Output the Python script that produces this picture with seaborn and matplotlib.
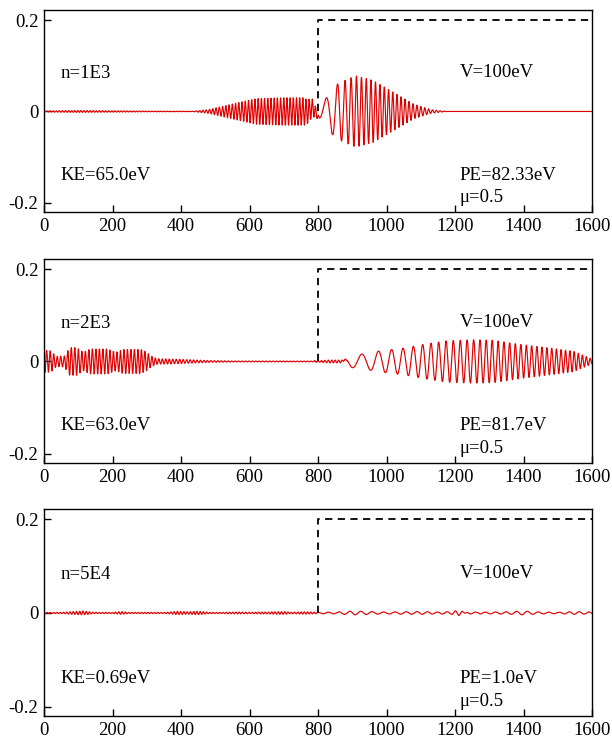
import numpy as np
import matplotlib
matplotlib.use("Agg")
import matplotlib.pyplot as plt
import seaborn as sns

# ---------------- data ----------------
x_ticks = [0, 200, 400, 600, 800, 1000, 1200, 1400, 1600]
y_ticks = [-0.2, 0, 0.2]
y_tick_labels = ["-0.2", "0", "0.2"]

# potential step (dashed)
pot_x = [800, 800, 1600]
pot_y = [0.0, 0.2, 0.2]

labels_n = ["n=1E3", "n=2E3", "n=5E4"]
labels_ke = ["KE=65.0eV", "KE=63.0eV", "KE=0.69eV"]
labels_pe = ["PE=82.33eV", "PE=81.7eV", "PE=1.0eV"]
label_v = "V=100eV"
label_mu = "\u03bc=0.5"

# Wave packets: envelope knots (x, amplitude), local wavelength knots (x, wavelength),
# reference x where carrier has a crest (phase 0) and extra phase.
# ---- panel 1 (n=1E3)
p1_tail_env_x = [0, 20, 100, 200, 300, 440]
p1_tail_env_a = [0.0, 0.0015, 0.002, 0.0015, 0.0008, 0.0004]
p1_tail_wl_x = [0, 440]
p1_tail_wl = [9.0, 9.0]

p1_a_env_x = [430, 480, 520, 560, 620, 700, 760, 785, 805]
p1_a_env_a = [0.0, 0.004, 0.011, 0.018, 0.028, 0.030, 0.030, 0.02, 0.0]
p1_a_wl_x = [430, 800]
p1_a_wl = [9.6, 9.2]

p1_b_env_x = [760, 800, 820, 841, 860, 910, 960, 1020, 1080, 1130, 1175]
p1_b_env_a = [0.0, 0.012, 0.025, 0.05, 0.062, 0.078, 0.068, 0.042, 0.016, 0.004, 0.0]
p1_b_wl_x = [780, 830, 860, 880, 900, 920, 950, 1000, 1050, 1175]
p1_b_wl = [45, 40, 24, 19, 16, 14.5, 13.5, 12.5, 11.7, 11.0]
p1_b_ref = 857

# ---- panel 2 (n=2E3)
p2_a_env_x = [0, 20, 36, 60, 75, 95, 115, 135, 185, 210, 230, 283, 300, 312, 330, 400, 480, 560, 800]
p2_a_env_a = [0.024, 0.023, 0.011, 0.012, 0.03, 0.03, 0.02, 0.027, 0.027, 0.02, 0.026, 0.026, 0.02,
              0.012, 0.006, 0.0045, 0.002, 0.001, 0.0008]
p2_a_wl_x = [0, 800]
p2_a_wl = [10.3, 10.0]

p2_w_env_x = [790, 830, 870, 885]
p2_w_env_a = [0.001, 0.003, 0.003, 0.0005]
p2_w_wl_x = [790, 885]
p2_w_wl = [10.0, 10.0]

p2_b_env_x = [870, 895, 930, 981, 1051, 1108, 1176, 1254, 1312, 1390, 1468, 1546, 1585, 1600]
p2_b_env_a = [0.0, 0.013, 0.016, 0.023, 0.029, 0.037, 0.045, 0.047, 0.046, 0.037, 0.030, 0.022, 0.010, 0.005]
p2_b_wl_x = [870, 910, 950, 1000, 1035, 1065, 1095, 1120, 1145, 1190, 1250, 1300, 1400, 1500, 1600]
p2_b_wl = [55, 55, 50, 37, 33, 30, 27, 24, 22, 21, 19, 17.5, 16, 13.5, 11]
p2_b_ref = 928

# ---- panel 3 (n=5E4)
p3_a_env_x = [0, 60, 85, 115, 145, 200, 225, 250, 300, 350, 390, 420, 450, 480, 510, 560, 600, 650,
              700, 720, 760, 800]
p3_a_env_a = [0.001, 0.0015, 0.003, 0.004, 0.0015, 0.001, 0.003, 0.001, 0.0015, 0.001, 0.0035, 0.0025,
              0.0035, 0.0015, 0.001, 0.002, 0.0015, 0.002, 0.003, 0.0015, 0.0025, 0.0015]
p3_a_wl_x = [0, 800]
p3_a_wl = [9.5, 9.5]

p3_b_env_x = [800, 850, 900, 950, 1000, 1050, 1100, 1150, 1200, 1250, 1300, 1350, 1400, 1450, 1500,
              1550, 1600]
p3_b_env_a = [0.0015, 0.002, 0.004, 0.003, 0.002, 0.0025, 0.003, 0.002, 0.003, 0.002, 0.002, 0.0025,
              0.004, 0.002, 0.0015, 0.003, 0.002]
p3_b_wl_x = [800, 1000, 1200, 1400, 1600]
p3_b_wl = [30, 34, 27, 32, 28]

p3_s_env_x = [1190, 1215, 1240]
p3_s_env_a = [0.0, 0.007, 0.0]
p3_s_wl_x = [1190, 1240]
p3_s_wl = [22, 22]
p3_s_ref = 1226

# ---------------- construction ----------------
x = np.arange(0, 1600.0001, 0.25)
dx = x[1] - x[0]


def packet(env_x, env_a, wl_x, wl_v, ref=None, phase0=0.0):
    amp = np.interp(x, env_x, env_a, left=0.0, right=0.0)
    k = 2 * np.pi / np.interp(x, wl_x, wl_v)
    ph = np.cumsum(k) * dx
    if ref is None:
        ref = env_x[0]
    ph -= np.interp(ref, x, ph)
    return amp * np.cos(ph + phase0)


psi1 = (packet(p1_tail_env_x, p1_tail_env_a, p1_tail_wl_x, p1_tail_wl)
        + packet(p1_a_env_x, p1_a_env_a, p1_a_wl_x, p1_a_wl, ref=700)
        + packet(p1_b_env_x, p1_b_env_a, p1_b_wl_x, p1_b_wl, ref=p1_b_ref))
psi2 = (packet(p2_a_env_x, p2_a_env_a, p2_a_wl_x, p2_a_wl, ref=90)
        + packet(p2_w_env_x, p2_w_env_a, p2_w_wl_x, p2_w_wl)
        + packet(p2_b_env_x, p2_b_env_a, p2_b_wl_x, p2_b_wl, ref=p2_b_ref))
psi3 = (packet(p3_a_env_x, p3_a_env_a, p3_a_wl_x, p3_a_wl)
        + packet(p3_b_env_x, p3_b_env_a, p3_b_wl_x, p3_b_wl)
        + packet(p3_s_env_x, p3_s_env_a, p3_s_wl_x, p3_s_wl, ref=p3_s_ref, phase0=np.pi / 2))
waves = [psi1, psi2, psi3]

# ---------------- drawing ----------------
sns.set_style("ticks")
plt.rcParams["font.family"] = ["Liberation Serif", "DejaVu Serif"]
plt.rcParams["axes.unicode_minus"] = False
plt.rcParams["text.color"] = "black"
plt.rcParams["xtick.color"] = "black"
plt.rcParams["ytick.color"] = "black"
plt.rcParams["xtick.labelcolor"] = "black"
plt.rcParams["ytick.labelcolor"] = "black"

fig = plt.figure(figsize=(6.12, 7.38), dpi=100)
W, H = 612.0, 738.0
panels_px = [(10, 212), (259, 463), (509, 716)]
left_px, right_px = 44, 592

FS = 13.5
for i, (top, bot) in enumerate(panels_px):
    ax = fig.add_axes([left_px / W, 1 - bot / H, (right_px - left_px) / W, (bot - top) / H])
    sns.lineplot(x=x, y=waves[i], ax=ax, color="#e00000", linewidth=0.85,
                 estimator=None, sort=False)
    sns.lineplot(x=pot_x, y=pot_y, ax=ax, color="black", linewidth=1.3,
                 estimator=None, sort=False, linestyle=(0, (4, 3)))
    ax.set_xlim(0, 1600)
    ax.set_ylim(-0.22, 0.222)
    ax.set_xticks(x_ticks)
    ax.set_xticklabels([str(t) for t in x_ticks], fontsize=FS, color="black")
    ax.set_yticks(y_ticks)
    ax.set_yticklabels(y_tick_labels, fontsize=FS, color="black")
    ax.tick_params(direction="in", length=5, width=1, pad=4, colors="black")
    for s in ax.spines.values():
        s.set_linewidth(1.0)
        s.set_color("black")
        s.set_visible(True)
    ax.set_xlabel("")
    ax.set_ylabel("")

    kw = dict(fontsize=FS, ha="left", va="baseline", color="black")
    ax.text(47, 0.073, labels_n[i], **kw)
    ax.text(47, -0.149, labels_ke[i], **kw)
    ax.text(1213, 0.075, label_v, **kw)
    ax.text(1213, -0.149, labels_pe[i], **kw)
    ax.text(1213, -0.198, label_mu, **kw)

fig.savefig("out.png", dpi=100)
